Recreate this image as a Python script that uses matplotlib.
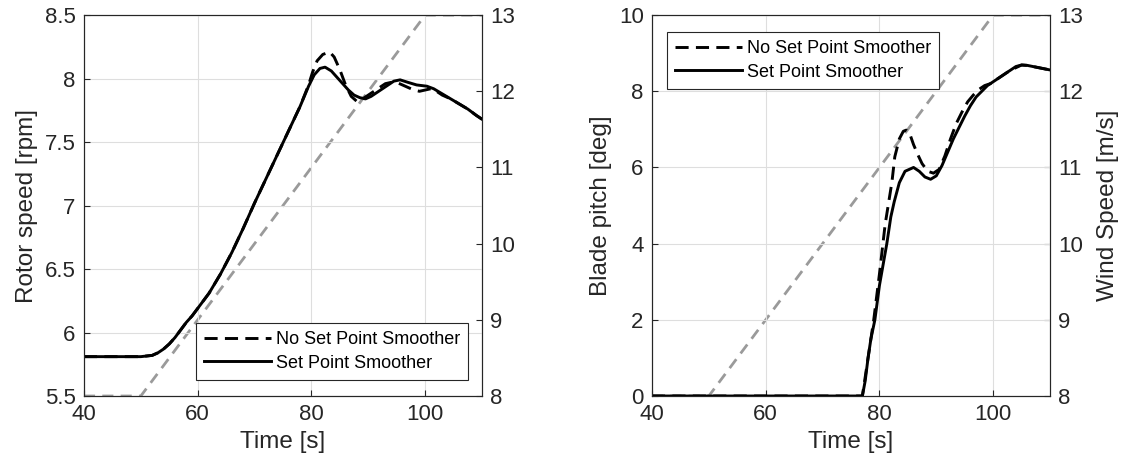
import numpy as np
import matplotlib
matplotlib.use("Agg")
import matplotlib.pyplot as plt
from matplotlib.ticker import FormatStrFormatter

plt.rcParams["font.family"] = ["Liberation Sans", "DejaVu Sans"]

# wind speed ramp (right axes)
wind_t = [40, 50, 100, 110]
wind_v = [8, 8, 13, 13]

# rotor speed, set point smoother (solid)
rot_t = [40, 50, 52, 53, 54, 55, 56, 57, 58, 59, 60, 62, 64, 66, 68, 70, 72, 74, 76, 78,
         79.5, 80.5, 81.5, 82.4, 83.5, 84.5, 85.5, 86.5, 87.5, 88.5, 89.5, 90.5, 91.5,
         92.5, 93.5, 94.5, 95.6, 97, 98.5, 100.3, 101.5, 103, 104.5, 106, 107.5, 109, 110]
rot_sps = [5.81, 5.81, 5.82, 5.84, 5.87, 5.91, 5.96, 6.02, 6.08, 6.13, 6.19, 6.31, 6.46,
           6.63, 6.82, 7.02, 7.21, 7.40, 7.59, 7.78, 7.94, 8.03, 8.08, 8.09, 8.06, 8.01,
           7.96, 7.91, 7.87, 7.85, 7.84, 7.86, 7.89, 7.92, 7.95, 7.98, 7.99, 7.97, 7.95,
           7.94, 7.92, 7.88, 7.84, 7.80, 7.76, 7.71, 7.68]

# rotor speed, no set point smoother (dashed)
rot_t_ns = [40, 50, 52, 53, 54, 55, 56, 57, 58, 59, 60, 62, 64, 66, 68, 70, 72, 74, 76, 78,
            79.5, 80.2, 81, 82, 83.2, 84, 85, 86, 87, 88, 89, 90, 91, 92, 93, 94, 95, 96,
            97, 98, 99, 100, 101, 102, 103, 104.5, 106, 107.5, 109, 110]
rot_nsps = [5.81, 5.81, 5.82, 5.84, 5.87, 5.91, 5.96, 6.02, 6.08, 6.13, 6.19, 6.31, 6.46,
            6.63, 6.82, 7.02, 7.21, 7.40, 7.59, 7.78, 7.95, 8.05, 8.14, 8.19, 8.21, 8.17,
            8.07, 7.95, 7.86, 7.82, 7.84, 7.87, 7.90, 7.93, 7.96, 7.97, 7.97, 7.95, 7.93,
            7.91, 7.90, 7.91, 7.92, 7.90, 7.87, 7.84, 7.80, 7.76, 7.71, 7.68]

# blade pitch, set point smoother (solid)
pit_t = [40, 77, 77.5, 78, 78.5, 79.2, 80, 81.3, 82, 82.6, 83.5, 84.5, 86, 87, 88, 89, 90,
         91, 92, 93, 94, 95, 96, 97, 98, 99, 100, 101, 102, 103, 104, 105, 106, 107, 108,
         109, 110]
pit_sps = [0, 0, 0.4, 1.0, 1.5, 2.0, 2.9, 4.0, 4.7, 5.1, 5.6, 5.9, 6.0, 5.9, 5.75, 5.69,
           5.78, 6.05, 6.4, 6.75, 7.05, 7.35, 7.62, 7.85, 8.0, 8.15, 8.25, 8.35, 8.45, 8.55,
           8.65, 8.69, 8.68, 8.65, 8.62, 8.59, 8.56]

# blade pitch, no set point smoother (dashed)
pit_t_ns = [40, 77, 78, 79, 80, 81, 81.6, 82.2, 82.7, 83.5, 84.2, 84.7, 85.3, 86, 86.8,
            87.5, 88.5, 89.5, 90.5, 91.5, 92.5, 93.5, 94.5, 95.5, 96.5, 97.5, 98.5, 99.5,
            100.5, 101.5, 103, 105, 106, 107, 108, 109, 110]
pit_nsps = [0, 0, 1.0, 2.0, 3.2, 4.5, 5.06, 5.62, 6.28, 6.75, 6.95, 6.98, 6.9, 6.6, 6.32,
            6.1, 5.9, 5.85, 5.95, 6.3, 6.75, 7.15, 7.45, 7.72, 7.9, 8.05, 8.15, 8.2, 8.3,
            8.4, 8.55, 8.69, 8.68, 8.65, 8.62, 8.59, 8.56]

AX_COL = "#262626"
GRAY = "#9a9a9a"


def style(ax):
    ax.set_facecolor("none")
    ax.grid(True, color="#dedede", linewidth=0.8)
    ax.tick_params(direction="in", length=4, labelsize=16, colors=AX_COL,
                   top=False, pad=6)
    for s in ax.spines.values():
        s.set_color(AX_COL)
        s.set_linewidth(0.8)


def panel(ax, t_ns, y_ns, t_s, y_s, ylim, yticks, ylabel, leg_loc, leg_anchor):
    ax2 = ax.twinx()
    ax2.plot(wind_t, wind_v, color=GRAY, lw=2.0, dashes=(4.0, 2.6))
    ax2.set_ylim(8, 13)
    ax2.set_yticks([8, 9, 10, 11, 12, 13])
    ax2.tick_params(direction="in", length=4, labelsize=16, colors=AX_COL, pad=6)
    ax.set_zorder(ax2.get_zorder() + 1)

    ax.plot(t_ns, y_ns, color="black", lw=2.1, dashes=(4.5, 2.5),
            label="No Set Point Smoother")
    ax.plot(t_s, y_s, color="black", lw=2.1, label="Set Point Smoother")
    ax.set_xlim(40, 110)
    ax.set_xticks([40, 60, 80, 100])
    ax.set_ylim(*ylim)
    ax.set_yticks(yticks)
    ax.yaxis.set_major_formatter(FormatStrFormatter("%g"))
    ax.set_xlabel("Time [s]", fontsize=17.5, color=AX_COL, labelpad=4)
    ax.set_ylabel(ylabel, fontsize=17.5, color=AX_COL, labelpad=5)
    style(ax)
    for s in ax2.spines.values():
        s.set_color(AX_COL)
        s.set_linewidth(0.8)
    leg = ax.legend(loc=leg_loc, bbox_to_anchor=leg_anchor, fontsize=13,
                    handlelength=3.7, handletextpad=0.3, borderpad=0.45,
                    labelspacing=0.35, fancybox=False, framealpha=1,
                    edgecolor=AX_COL, borderaxespad=0)
    leg.get_frame().set_linewidth(0.8)
    return ax2


fig = plt.figure(figsize=(11.27, 4.72), dpi=100)
ax_l = fig.add_axes([0.0745, 0.161, 0.3532, 0.807])
ax_r = fig.add_axes([0.5785, 0.161, 0.3532, 0.807])

panel(ax_l, rot_t_ns, rot_nsps, rot_t, rot_sps, (5.5, 8.5),
      [5.5, 6, 6.5, 7, 7.5, 8, 8.5], "Rotor speed [rpm]",
      "lower right", (0.966, 0.043))
ax2r = panel(ax_r, pit_t_ns, pit_nsps, pit_t, pit_sps, (0, 10),
             [0, 2, 4, 6, 8, 10], "Blade pitch [deg]",
             "upper left", (0.037, 0.955))
ax2r.set_ylabel("Wind Speed [m/s]", fontsize=17.5, color=AX_COL, labelpad=10)

fig.savefig("out.png", dpi=100)
